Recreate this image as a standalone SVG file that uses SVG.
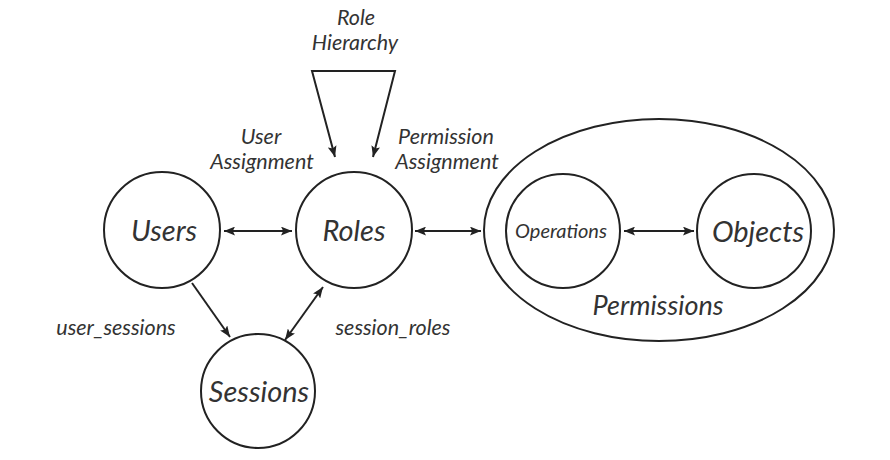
<svg xmlns="http://www.w3.org/2000/svg" width="890" height="460" viewBox="0 0 890 460">
<style>
.n{fill:#fff;stroke:#222;stroke-width:2}
.c{fill:none;stroke:#222;stroke-width:2}
text{font-family:Lato,"Liberation Sans",sans-serif;font-style:italic;fill:#333;text-anchor:middle}
.big{font-size:29px}
.lab{font-size:21.5px}
</style>
<defs>
<marker id="a" viewBox="0 0 10 8" refX="10" refY="4" markerWidth="11" markerHeight="9" markerUnits="userSpaceOnUse" orient="auto-start-reverse">
<path d="M0,0 L10,4 L0,8 L2,4 z" fill="#222"/>
</marker>
</defs>
<rect width="890" height="460" fill="#fff"/>
<g id="permissions">
<ellipse class="n" cx="659" cy="230" rx="175" ry="111"/>
<text x="658" y="315" style="font-size:27px">Permissions</text>
</g>
<g id="users">
<circle class="n" cx="162" cy="230" r="58"/>
<text class="big" x="164" y="241">Users</text>
</g>
<g id="roles">
<circle class="n" cx="354" cy="230" r="58"/>
<text class="big" x="354" y="241">Roles</text>
</g>
<g id="sessions">
<circle class="n" cx="258" cy="391" r="57"/>
<text class="big" x="259" y="402">Sessions</text>
</g>
<g id="operations">
<circle class="n" cx="563" cy="231" r="57"/>
<text x="561" y="238" style="font-size:20px">Operations</text>
</g>
<g id="objects">
<circle class="n" cx="754" cy="231" r="57"/>
<text class="big" x="758" y="242">Objects</text>
</g>
<g id="connectors">
<line class="c" x1="224" y1="231" x2="292" y2="231" marker-start="url(#a)" marker-end="url(#a)"/>
<line class="c" x1="415" y1="231" x2="481" y2="231" marker-start="url(#a)" marker-end="url(#a)"/>
<line class="c" x1="624" y1="231" x2="694" y2="231" marker-start="url(#a)" marker-end="url(#a)"/>
<line class="c" x1="192" y1="283" x2="230" y2="337" marker-end="url(#a)"/>
<line class="c" x1="285" y1="340" x2="323" y2="287" marker-start="url(#a)" marker-end="url(#a)"/>
<path class="c" d="M335,157 L312,71 L395,71 L373,157" marker-start="url(#a)" marker-end="url(#a)"/>
</g>
<g id="labels">
<text class="lab" x="356" y="25">Role</text>
<text class="lab" x="355" y="50">Hierarchy</text>
<text class="lab" x="261" y="144">User</text>
<text class="lab" x="262" y="169">Assignment</text>
<text class="lab" x="446" y="144">Permission</text>
<text class="lab" x="447" y="169">Assignment</text>
<text class="lab" x="116" y="335">user_sessions</text>
<text class="lab" x="393" y="335">session_roles</text>
</g>
</svg>
